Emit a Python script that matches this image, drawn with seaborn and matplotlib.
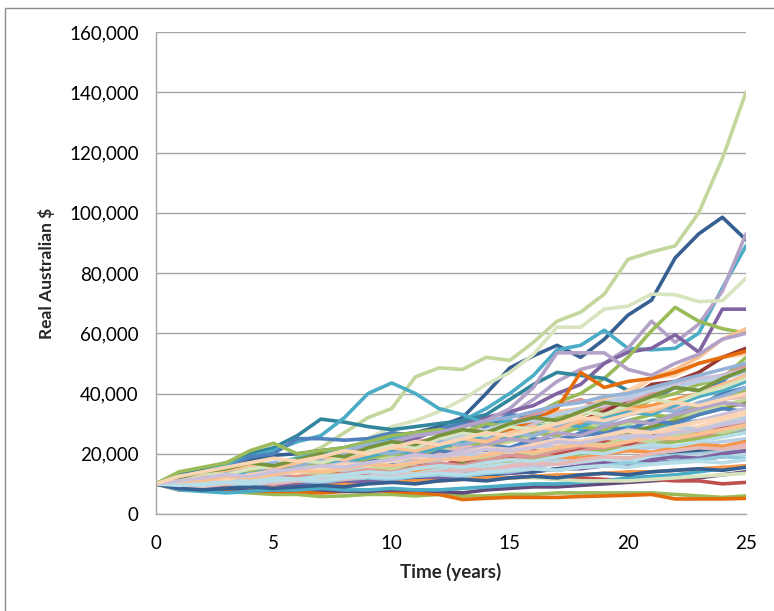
import matplotlib
matplotlib.use("Agg")
import matplotlib.pyplot as plt
import pandas as pd
import seaborn as sns
from matplotlib.patches import Rectangle
from matplotlib.ticker import FuncFormatter

# ---- data (values in thousands of real Australian dollars) ----
years = list(range(26))

path01 = [10, 10.5, 11, 12, 12.5, 14, 19, 22, 27, 32, 35, 45.5, 48.5, 48, 52, 51, 57, 64, 67, 73, 84.5, 87, 89, 100, 118, 140]
path02 = [10, 12, 14, 16, 18, 19.5, 20, 21, 22, 24, 26, 27, 29, 32, 40, 48.5, 52.5, 56, 52, 58, 66, 71, 85, 93, 98.5, 91]
path03 = [10, 11, 12, 13.5, 15, 17, 18.5, 20, 21, 23, 25, 26, 28, 31, 35, 40, 46, 54.5, 56, 61, 55, 54.5, 55, 60, 75, 89]
path04 = [10, 11, 12, 13, 14, 15, 16, 17, 18, 20, 22, 23, 25, 27, 30, 33, 38, 44, 48, 50, 55, 64, 57, 63, 74, 93]
path05 = [10, 10.5, 11, 11.5, 12, 13, 15, 17.5, 21, 25, 29, 31, 34, 38, 43, 47, 53, 62, 62, 68, 69, 73, 72.8, 70.5, 70.8, 78.3]
path06 = [10, 11, 12, 13, 14, 15.5, 17, 18, 19, 21, 23, 25, 28, 30, 32, 34, 36, 40, 43, 50, 53.7, 55, 59.5, 53.7, 68, 68]
path07 = [10, 10.5, 11, 11.5, 12, 13, 14, 15, 16, 18, 20, 22, 24, 26, 28, 30, 33, 37, 40, 45, 52, 60.8, 68.6, 64, 61.5, 60]
path08 = [10, 13, 15, 17, 20, 22, 26, 31.5, 30.5, 29, 28, 29, 30, 31, 33, 38, 43, 47, 46, 45, 41, 40, 43, 44, 46, 48]
path09 = [10, 12, 14, 16, 19, 21, 24, 26, 32, 40, 43.5, 40, 35, 33, 30, 31, 29, 30, 28, 27, 29, 28, 30, 31, 32, 33]
path10 = [10, 11, 13, 15, 19, 20, 25, 25, 24.5, 25, 27, 26, 28, 30, 29, 33, 32, 34, 31, 32, 35, 38, 42, 41, 44, 50]
path11 = [10, 14, 15.5, 17, 21, 23.5, 20, 21, 22, 24, 26, 27, 28, 27, 30, 29, 30, 32, 33, 35, 34, 38, 40, 43, 45, 52]
path12 = [10, 8.5, 8, 7.5, 7, 6.5, 6.5, 5.8, 6, 6.5, 6.5, 6, 6.5, 6, 6, 6.5, 6.5, 7, 7, 7, 7, 7, 6.5, 6, 5.5, 6]
path13 = [10, 8, 8.5, 8, 7.5, 7.5, 7.5, 7, 7.5, 8, 7.5, 7, 6.5, 4.8, 5.2, 5.5, 5.5, 5.5, 5.8, 6, 6.2, 6.5, 5, 5, 5, 5.2]
path14 = [10, 8.5, 8, 8.5, 8, 8, 8.5, 8, 7.5, 7.5, 8, 8, 7.5, 7, 8, 8.5, 9, 9, 9.5, 10, 10.5, 11, 11.5, 12, 13, 14]
path15 = [10, 9, 9.5, 10, 9.5, 10, 10.5, 11, 10.5, 11, 11.5, 11, 12, 12.5, 11.5, 12, 12.5, 11.5, 12, 11.5, 11, 11.5, 11, 11, 10, 10.5]
path16 = [10, 8, 7.5, 7, 7.5, 8, 8, 8.5, 8, 8, 8.5, 8, 8, 8.5, 9, 9.5, 10, 10, 10.5, 11, 12, 12.5, 13, 14, 15, 16]
path17 = [10, 11, 12, 13, 13.5, 14, 15, 16, 17, 18, 19, 20, 22, 23, 24, 25, 27, 28, 30, 32, 35, 36, 38, 40, 42, 45]
path18 = [10, 11, 12, 12.5, 13, 13.5, 14, 15, 16, 17, 18, 19, 20, 22, 25, 28, 31, 34, 35, 38, 40, 45, 48, 52, 58, 61.5]
path19 = [10, 12, 13, 13, 13.5, 14, 15, 16, 17, 17, 18, 19, 21, 23, 22, 24, 26, 30, 33, 37, 41, 45, 46, 50, 52, 53]
path20 = [10, 10.5, 11, 12, 13, 14, 15, 16, 18, 20, 22, 24, 25, 27, 28, 30, 33, 36, 38, 35, 37, 40, 42, 44, 46, 49]
path21 = [10, 10, 10.5, 11, 11.5, 12, 13, 14, 15, 16, 18, 19, 21, 22, 24, 26, 27, 29, 31, 34, 38, 43, 44, 47, 52, 55]
path22 = [10, 10.5, 11, 11, 11.5, 12, 12.5, 13, 13.5, 14, 14.5, 15, 16, 17, 18, 18.5, 19, 20, 21, 22, 23, 24, 25, 26, 27, 28]
path23 = [10, 9, 9.5, 10, 10.5, 11, 11.5, 12, 12, 13, 13.5, 14, 14, 15, 16, 17, 17.5, 18, 19, 20, 21, 22, 22.5, 23, 24, 25]
path24 = [10, 11, 12, 13, 14, 15, 16, 17, 18, 19, 20, 21, 23, 24, 26, 28, 30, 33, 35, 36, 38, 41, 43, 45, 46, 48]
path25 = [10, 11, 12, 14, 16, 17, 18, 19, 21, 22, 22, 21, 19, 18, 17, 17.5, 18, 19, 20, 21, 22, 23, 25, 27, 29, 31]
path26 = [10, 9.5, 9.5, 10, 10, 10.5, 11, 11, 11.5, 12, 12.5, 13, 13.5, 14, 15, 16, 16, 17, 17.5, 18, 18.5, 19, 19.5, 20, 21, 22]
path27 = [10, 10.5, 11, 12, 12.5, 13, 14, 15, 15.5, 16, 17, 18, 19, 20, 21, 22, 24, 25, 26, 27, 28, 31, 33, 36, 40, 42]
path28 = [10, 10, 10.5, 11, 11.5, 12, 12, 13, 13.5, 14, 15, 15.5, 16, 17, 18, 19, 20, 21, 23, 25, 27, 29, 31, 33, 35, 37]
path29 = [10, 9.5, 9, 9.5, 10, 10.5, 11, 11.5, 12, 12.5, 13, 14, 15, 16, 17, 18, 19, 20, 21, 22, 23, 24, 25, 27, 29, 30]
path30 = [10, 10.5, 11.5, 12, 13, 14, 15, 16, 17, 18, 20, 21, 22, 24, 26, 28, 31, 35, 47, 42, 44, 45, 47, 50, 52, 54]
path31 = [10, 9.5, 9, 9, 9.5, 9.5, 10, 10, 10.5, 11, 11.5, 12, 12.5, 13, 13, 14, 14, 15, 15, 16, 16, 17, 17.5, 18, 19, 20]
path32 = [10, 11, 12, 12.5, 13, 14, 15, 16, 17, 18, 19, 20, 21, 22, 23, 24, 26, 28, 29, 30, 30, 31, 32, 34, 36, 38]
path33 = [10, 10, 10.5, 10.5, 11, 11, 11.5, 11.5, 12, 12, 12.5, 12.5, 12, 12, 12.5, 12, 12, 11.5, 11, 11, 11, 11.5, 12, 12.5, 13, 13.5]
path34 = [10, 10.5, 11, 11.5, 12, 13, 13.5, 14, 14.5, 15, 16, 17, 18, 19, 20, 21, 22, 23, 24, 24, 25, 26, 27, 28, 29, 30]
path35 = [10, 9, 8.5, 8.5, 9, 9.5, 9.5, 10, 10.5, 11, 11, 11.5, 12, 12.5, 13, 13.5, 14, 15, 16, 17, 18, 19, 20, 21, 22, 24]
path36 = [10, 10, 10.5, 11, 11.5, 12, 12.5, 13, 13.5, 14, 14.5, 15, 15.5, 16, 17, 18, 19, 20, 21, 22, 23, 24, 25, 26, 27, 29]
path37 = [10, 11, 12, 13, 14, 15, 16, 18, 19, 21, 22, 23, 24, 26, 28, 30, 31, 33, 35, 37, 39, 41, 42, 44, 45, 47]
path38 = [10, 10, 10.5, 11, 11, 11.5, 12, 12.5, 13, 13, 13.5, 14, 14.5, 15, 15.5, 16, 16.5, 17, 17.5, 18, 18.5, 19, 19.5, 20, 20.5, 21]
path39 = [10, 11, 12, 12.5, 13, 14, 14.5, 15, 15, 16, 17, 18, 19, 20, 20, 21, 22, 23, 24, 25, 26, 27, 28, 29, 31, 33]
path40 = [10, 9.5, 9.5, 10, 10.5, 11, 11.5, 12, 12, 12.5, 13, 13.5, 14, 14.5, 15, 15.5, 16, 16.5, 17, 17.5, 18, 18.5, 19, 19.5, 20, 20]
path41 = [10, 10.5, 11, 11, 11.5, 12, 13, 14, 15, 16, 17, 18, 20, 22, 24, 25, 27, 29, 31, 32, 33, 34, 35, 36, 38, 39]
path42 = [10, 10, 10, 10.5, 11, 11, 11.5, 12, 12.5, 13, 13.5, 14, 14.5, 15, 16, 17, 18, 19, 20, 21, 22, 23, 24, 25, 26, 27]
path43 = [10, 9.5, 9, 9, 9, 9.5, 9.5, 10, 10, 10.5, 10.5, 11, 11, 11.5, 12, 12, 12.5, 13, 13, 13.5, 14, 14, 14.5, 15, 15.5, 16]
path44 = [10, 11, 12, 13, 14, 15, 17, 19, 21, 23, 24, 26, 27, 29, 31, 32, 34, 36, 37, 39, 40, 42, 44, 46, 48, 50]
path45 = [10, 10.5, 11, 11.5, 12, 12, 12.5, 13, 13, 13.5, 14, 14, 15, 15, 16, 16.5, 17, 17, 17.5, 18, 18, 18.5, 19, 19, 19.5, 20]
path46 = [10, 12, 13, 14, 15, 16, 17, 18, 20, 22, 24, 26, 27, 29, 31, 35, 42, 53.5, 53.5, 53.5, 48, 46, 50, 53, 58, 60]
path47 = [10, 11.5, 12, 13.5, 12.5, 14, 15.5, 14.5, 16, 18, 17, 19, 21, 20, 23, 22, 25, 24, 27, 29, 28, 31, 30, 33, 35, 34]
path48 = [10, 9, 10, 11, 10.5, 12, 11, 13, 14, 13, 15, 17, 16, 18, 17, 19, 21, 20, 22, 24, 23, 26, 25, 27, 29, 31]
path49 = [10, 12, 11, 13, 14.5, 13.5, 16, 17, 16, 18.5, 20, 19, 22, 24, 22.5, 25, 27, 26, 29, 28, 31, 33, 32, 36, 38, 41]
path50 = [10, 8.5, 9, 8.5, 9.5, 10, 9.5, 10.5, 11, 10.5, 11.5, 12.5, 12, 13, 14, 13.5, 15, 14.5, 16, 17, 16, 18, 19, 18.5, 20, 21]
path51 = [10, 11, 12.5, 14, 13, 15, 16.5, 18, 17, 19, 21, 20, 22, 24, 26, 25, 28, 30, 29, 32, 34, 33, 36, 39, 41, 44]
path52 = [10, 10.5, 10, 11, 12, 11.5, 12.5, 13.5, 13, 14, 15, 14.5, 16, 15.5, 17, 18, 17.5, 19, 18.5, 20, 21, 20.5, 22, 23, 22.5, 24]
path53 = [10, 12.5, 13, 14, 15.5, 17, 16, 18, 19.5, 21, 20, 22, 24, 23, 25, 27, 26, 29, 31, 30, 33, 35, 34, 37, 39, 42]
path54 = [10, 9.5, 10.5, 11.5, 11, 12.5, 13, 12, 13.5, 14.5, 14, 15.5, 17, 16, 18, 19.5, 19, 21, 22.5, 22, 24, 25.5, 25, 27, 28, 30]
path55 = [10, 11, 11.5, 11, 12.5, 13, 14, 13.5, 15, 16, 15, 17, 18.5, 18, 19, 21, 20, 22, 23.5, 23, 25, 24, 26, 28, 27, 29]
path56 = [10, 10, 11, 12, 13, 12.5, 14, 15, 16.5, 16, 18, 20, 19, 21, 23, 25, 24, 27, 26, 29, 31, 30, 33, 35, 37, 36]
path57 = [10, 9, 9.5, 10, 9.5, 10.5, 11, 10.5, 11.5, 12, 11.5, 12.5, 13, 12.5, 13.5, 14, 15, 14.5, 15.5, 16, 17, 16.5, 17.5, 18, 19, 18.5]
path58 = [10, 11.5, 13, 14.5, 16, 15, 17, 19, 18, 20, 22, 21, 23, 25, 24, 27, 29, 28, 31, 33, 35, 34, 37, 40, 43, 46]
path59 = [10, 10.5, 11.5, 12, 11.5, 13, 14, 15, 14.5, 16, 17.5, 17, 18, 20, 19.5, 21, 23, 22, 24, 26, 25, 27, 29, 28, 30, 32]
path60 = [10, 9.5, 9, 10, 10.5, 10, 11, 12, 11.5, 12.5, 13.5, 13, 14, 15, 14.5, 16, 17, 16.5, 18, 19, 18.5, 20, 21, 22, 21.5, 23]
path61 = [10, 12, 13.5, 13, 15, 16, 18, 17, 19, 21, 23, 22, 25, 27, 26, 29, 28, 31, 34, 33, 36, 38, 37, 40, 42, 45]
path62 = [10, 11, 10.5, 12, 13, 14.5, 14, 15.5, 17, 16.5, 18, 19.5, 19, 21, 22, 21.5, 23, 25, 24, 26, 28, 27, 29, 31, 33, 35]
path63 = [10, 10, 9.5, 10.5, 11, 12, 11.5, 12.5, 13, 14, 13.5, 15, 16, 15.5, 17, 18, 17.5, 19, 20.5, 20, 22, 23, 22.5, 24, 25.5, 27]
path64 = [10, 11, 12, 11.5, 13, 14, 13.5, 15, 16.5, 16, 17.5, 19, 18.5, 20, 22, 21, 23, 24.5, 24, 26, 27.5, 27, 29, 30.5, 32, 34]
path65 = [10, 8.5, 8, 8.5, 9, 8.5, 9, 9.5, 9, 10, 10.5, 10, 11, 11.5, 11, 12, 12.5, 12, 13, 13.5, 13, 14, 14.5, 15, 14.5, 15.5]
path66 = [10, 12, 14, 15, 17, 16, 18, 20, 19, 22, 24, 23, 26, 28, 27, 30, 32, 31, 34, 37, 36, 39, 42, 41, 45, 48]
path67 = [10, 10.5, 11, 12.5, 12, 13, 14.5, 14, 15, 16.5, 16, 17, 18.5, 18, 19.5, 21, 20.5, 22, 23, 22.5, 24, 25.5, 25, 26.5, 28, 29.5]
path68 = [10, 9.5, 10, 10.5, 10, 11, 11.5, 11, 12, 12.5, 12, 13, 13.5, 13, 14, 14.5, 15, 14.5, 15.5, 16, 15.5, 16.5, 17, 17.5, 17, 18]
path69 = [10, 11, 12, 13, 12.5, 14, 15, 16, 15.5, 17, 18, 19.5, 19, 20, 21.5, 21, 22, 24, 23.5, 25, 26, 25.5, 27, 28, 29.5, 31]
path70 = [10, 12.5, 14, 15.5, 17, 18.5, 17.5, 19, 21, 20, 22, 24, 23, 25, 27, 26, 28, 30, 32, 31, 33, 35, 37, 36, 38, 40]

paths = [path01, path02, path03, path04, path05, path06, path07, path08, path09, path10,
         path11, path12, path13, path14, path15, path16, path17, path18, path19, path20,
         path21, path22, path23, path24, path25, path26, path27, path28, path29, path30,
         path31, path32, path33, path34, path35, path36, path37, path38, path39, path40,
         path41, path42, path43, path44, path45, path46, path47, path48, path49, path50,
         path51, path52, path53, path54, path55, path56, path57, path58, path59, path60,
         path61, path62, path63, path64, path65, path66, path67, path68, path69, path70]

line_colors = ["#C3D69B", "#376092", "#4BACC6", "#B3A2C7", "#D7E4BD", "#8064A2", "#9BBB59",
               "#31859C", "#4BACC6", "#4F81BD", "#9BBB59", "#9BBB59", "#E46C0A", "#604A7B",
               "#C0504D", "#4BACC6", "#F79646", "#FAC090", "#FCD5B5", "#D99694", "#953735",
               "#95B3D7", "#B9CDE5", "#CCC1DA", "#B7DEE8", "#E6B9B8", "#4F81BD", "#77933C",
               "#31859C", "#E46C0A", "#8064A2", "#C3D69B", "#D7E4BD", "#FAC090", "#376092",
               "#D99694", "#B9CDE5", "#93CDDD", "#FCD5B5", "#CCC1DA", "#E6B9B8", "#9BBB59",
               "#F79646", "#95B3D7", "#B7DEE8", "#B3A2C7",
               "#4F81BD", "#C0504D", "#9BBB59", "#8064A2", "#4BACC6", "#F79646",
               "#95B3D7", "#D99694", "#C3D69B", "#B3A2C7", "#93CDDD", "#FAC090",
               "#B9CDE5", "#E6B9B8", "#D7E4BD", "#CCC1DA", "#B7DEE8", "#FCD5B5",
               "#376092", "#77933C", "#FAC090", "#B7DEE8", "#CCC1DA", "#FCD5B5"]

y_ticks = [0, 20000, 40000, 60000, 80000, 100000, 120000, 140000, 160000]
x_ticks = [0, 5, 10, 15, 20, 25]

rows = []
for i, p in enumerate(paths):
    for t, v in zip(years, p):
        rows.append({"path": f"p{i:02d}", "year": t, "value": v * 1000})
df = pd.DataFrame(rows)

sns.set_theme(style="white")
plt.rcParams["font.family"] = ["Lato", "DejaVu Sans"]

fig = plt.figure(figsize=(7.74, 6.11), dpi=100)
fig.patch.set_facecolor("white")
ax = fig.add_axes([155.5 / 774, 97 / 611, (746 - 155.5) / 774, (514 - 32) / 611])

sns.lineplot(data=df, x="year", y="value", hue="path", palette=line_colors,
             linewidth=2.6, legend=False, ax=ax, estimator=None)

ax.set_xlim(0, 25)
ax.set_ylim(0, 160000)
ax.set_xticks(x_ticks)
ax.set_yticks(y_ticks)
ax.yaxis.set_major_formatter(FuncFormatter(lambda v, _: f"{int(v):,}"))
ax.grid(axis="y", color="#A6A6A6", linewidth=1.0)
ax.set_axisbelow(True)
for s in ["top", "right"]:
    ax.spines[s].set_visible(False)
for s in ["left", "bottom"]:
    ax.spines[s].set_color("#A6A6A6")
    ax.spines[s].set_linewidth(1.0)
ax.tick_params(axis="both", length=0, labelsize=13.5, colors="#000000")
ax.tick_params(axis="y", pad=12)
ax.tick_params(axis="x", pad=15)
ax.set_xlabel("Time (years)", fontsize=13.5, fontweight="bold", labelpad=8)
ax.set_ylabel("Real Australian $", fontsize=12.5, fontweight="bold", labelpad=10)

fig.patches.append(Rectangle((5 / 774, -0.05), 1.1, 1 - 8 / 611 + 0.05,
                             transform=fig.transFigure, fill=False,
                             edgecolor="#8C8C8C", linewidth=1.0))

fig.savefig("out.png", dpi=100)
